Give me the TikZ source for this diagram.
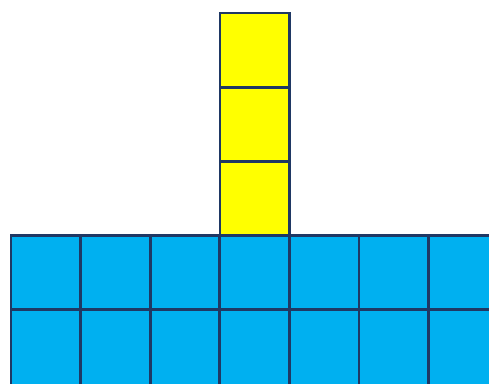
\documentclass[tikz,border=0pt]{standalone}
\definecolor{edge}{HTML}{1F3864}
\definecolor{bluefill}{HTML}{00B0F0}
\definecolor{yellowfill}{HTML}{FFFF00}
\tikzset{cellstyle/.style={draw=edge,line width=2.8pt}}
\begin{document}
\begin{tikzpicture}[x=1pt,y=-1pt]
\useasboundingbox (0,0) rectangle (489,383);
\clip (0,0) rectangle (489,383);
\foreach \i in {0,...,7}{
  \path[cellstyle,fill=bluefill] ({11+69.6*\i},235.5) rectangle ++(69.6,74);
  \path[cellstyle,fill=bluefill] ({11+69.6*\i},309.5) rectangle ++(69.6,80);
}
\foreach \j in {0,1,2}{
  \path[cellstyle,fill=yellowfill] (220,{13+74.2*\j}) rectangle ++(69.6,74.2);
}
\end{tikzpicture}
\end{document}
